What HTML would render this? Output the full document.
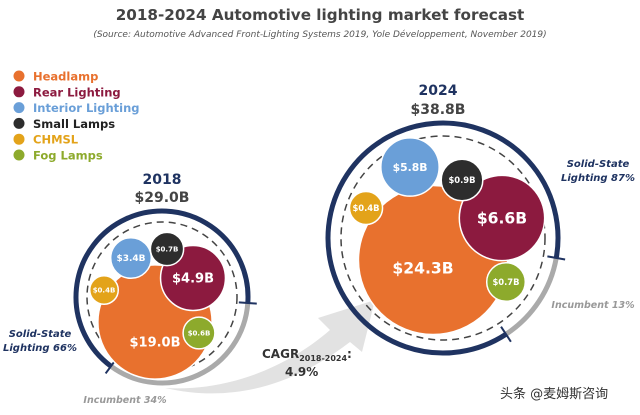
<!DOCTYPE html>
<html><head><meta charset="utf-8"><style>
body{margin:0;background:#fff;width:640px;height:410px;overflow:hidden;font-family:"Liberation Sans","Noto Sans CJK SC",sans-serif}
svg text{font-family:"DejaVu Sans","Liberation Sans","Noto Sans CJK SC",sans-serif}
</style></head><body>
<svg id="c" width="640" height="410" viewBox="0 0 640 410">
<text x="320" y="20" text-anchor="middle" font-size="15.2" font-weight="bold" fill="#444">2018-2024 Automotive lighting market forecast</text>
<text x="320" y="37" text-anchor="middle" font-size="9" font-style="italic" fill="#555">(Source: Automotive Advanced Front-Lighting Systems 2019, Yole Développement, November 2019)</text>
<path d="M165,388 C230,392 290,365 330,330 L318,318 L375,300 L362,352 L350,342 C300,380 240,405 165,388 Z" fill="#e2e2e2"/>
<text x="262" y="358" font-size="12" font-weight="bold" fill="#333">CAGR<tspan font-size="8" dy="3">2018-2024</tspan><tspan dy="-3">:</tspan></text>
<text x="285" y="376" font-size="12" font-weight="bold" fill="#333">4.9%</text>
<text x="500" y="398" font-size="13" fill="#333">头条 @麦姆斯咨询</text>
<g id="legend"></g>
<g id="charts"></g>
</svg>
<script>
const categories=["Headlamp","Rear Lighting","Interior Lighting","Small Lamps","CHMSL","Fog Lamps"];
const colors=["#e8712e","#8c1a3f","#6a9fd8","#2d2d2d","#e3a31a","#8daa2c"];
const years=["2018","2024"];
const totals=["$29.0B","$38.8B"];
const values2018=[19.0,4.9,3.4,0.7,0.4,0.6];
const values2024=[24.3,6.6,5.8,0.9,0.4,0.7];
const solidState=[66,87];
const NS="http://www.w3.org/2000/svg";
const svg=document.getElementById('c');
function mk(t,a,p){const e=document.createElementNS(NS,t);for(const k in a)e.setAttribute(k,a[k]);(p||svg).appendChild(e);return e;}
const lg=document.getElementById('legend');
categories.forEach((c,i)=>{
  const y=76+i*15.8;
  const d=mk('circle',{cx:19,cy:y,r:5.5,fill:colors[i]},lg);
  
  
  const t=mk('text',{x:33,y:y+4.5,'font-size':11.5,'font-weight':'bold',fill:i==3?'#222':colors[i]},lg);
  t.textContent=c;
  
  
});
// layout (positions / visual scale only)
const bubbleScale=[1,1,0.72,1,1,1];
const layouts=[
 {cx:162,cy:297,R:86,Rd:75,k:11.5,c:7,pos:[[155,322],[193,278],[131,258],[167,249],[104,290],[199,333]],gEnd:4,fs:1,
  ss:{x:40,y:337},inc:{x:125,y:403},t1:27,t2:9},
 {cx:443,cy:238,R:115,Rd:102,k:13.5,c:8,pos:[[433,260],[502,218],[410,167],[462,180],[366,208],[506,282]],gEnd:10,fs:1.2,
  ss:{x:598,y:167},inc:{x:593,y:308},t1:28,t2:9}
];
const cg=document.getElementById('charts');
function pt(L,r,a){const t=a*Math.PI/180;return [L.cx+r*Math.cos(t),L.cy+r*Math.sin(t)];}
[values2018,values2024].forEach((vals,ci)=>{
  const L=layouts[ci];const g=mk('g',{},cg);
  
  
  const incDeg=(100-solidState[ci])*3.6;
  const a0=L.gEnd,a1=L.gEnd+incDeg;
  const p0=pt(L,L.R,a0),p1=pt(L,L.R,a1);
  const ga=mk('path',{d:`M${p0[0]},${p0[1]} A${L.R},${L.R} 0 ${incDeg>180?1:0} 1 ${p1[0]},${p1[1]}`,fill:'none',stroke:'#aaa','stroke-width':5},g);
  
  
  const na=mk('path',{d:`M${p1[0]},${p1[1]} A${L.R},${L.R} 0 ${incDeg<180?1:0} 1 ${p0[0]},${p0[1]}`,fill:'none',stroke:'#1f3361','stroke-width':5},g);
  
  
  [a0,a1].forEach((a,j)=>{const q=pt(L,L.R-9,a),w=pt(L,L.R+9,a);
    const tk=mk('line',{x1:q[0],y1:q[1],x2:w[0],y2:w[1],stroke:'#1f3361','stroke-width':2},g);
    
    });
  const dc=mk('circle',{cx:L.cx,cy:L.cy,r:L.Rd,fill:'none',stroke:'#444','stroke-width':1.5,'stroke-dasharray':'7,5'},g);
  
  
  vals.forEach((v,i)=>{
    const r=(L.k*Math.sqrt(v)+L.c)*bubbleScale[i];const p=L.pos[i];
    const b=mk('circle',{cx:p[0],cy:p[1],r:r,fill:colors[i],stroke:'#fff','stroke-width':1.5},g);
    
    
  });
  vals.forEach((v,i)=>{
    const p=L.pos[i];const big=i<2;const fsz=big?13*L.fs:(i==2?9*L.fs:7*L.fs);
    const ly=i==0?p[1]+(ci==0?20:8):p[1];
    const t=mk('text',{x:p[0]+(i==0&&ci==1?-10:0),y:ly+fsz*0.35,'text-anchor':'middle','font-size':fsz,'font-weight':'bold',fill:'#fff'},g);
    t.textContent='$'+v.toFixed(1)+'B';
    
    
  });
  const yt=mk('text',{x:L.cx+(ci==0?0:-5),y:L.cy-L.R-L.t1,'text-anchor':'middle','font-size':14,'font-weight':'bold',fill:'#1f3361'},g);
  yt.textContent=years[ci];
  
  
  const tt=mk('text',{x:L.cx+(ci==0?0:-5),y:L.cy-L.R-L.t2,'text-anchor':'middle','font-size':14,'font-weight':'bold',fill:'#444'},g);
  tt.textContent=totals[ci];
  
  
  const s1=mk('text',{x:L.ss.x,y:L.ss.y,'text-anchor':'middle','font-size':10,'font-weight':'bold','font-style':'italic',fill:'#1f3361'},g);
  s1.textContent='Solid-State';
  
  
  const s2=mk('text',{x:L.ss.x,y:L.ss.y+14,'text-anchor':'middle','font-size':10,'font-weight':'bold','font-style':'italic',fill:'#1f3361'},g);
  s2.textContent='Lighting '+solidState[ci]+'%';
  
  
  const ic=mk('text',{x:L.inc.x,y:L.inc.y,'text-anchor':'middle','font-size':9.5,'font-weight':'bold','font-style':'italic',fill:'#999'},g);
  ic.textContent='Incumbent '+(100-solidState[ci])+'%';
  
  
});
</script>
</body></html>
